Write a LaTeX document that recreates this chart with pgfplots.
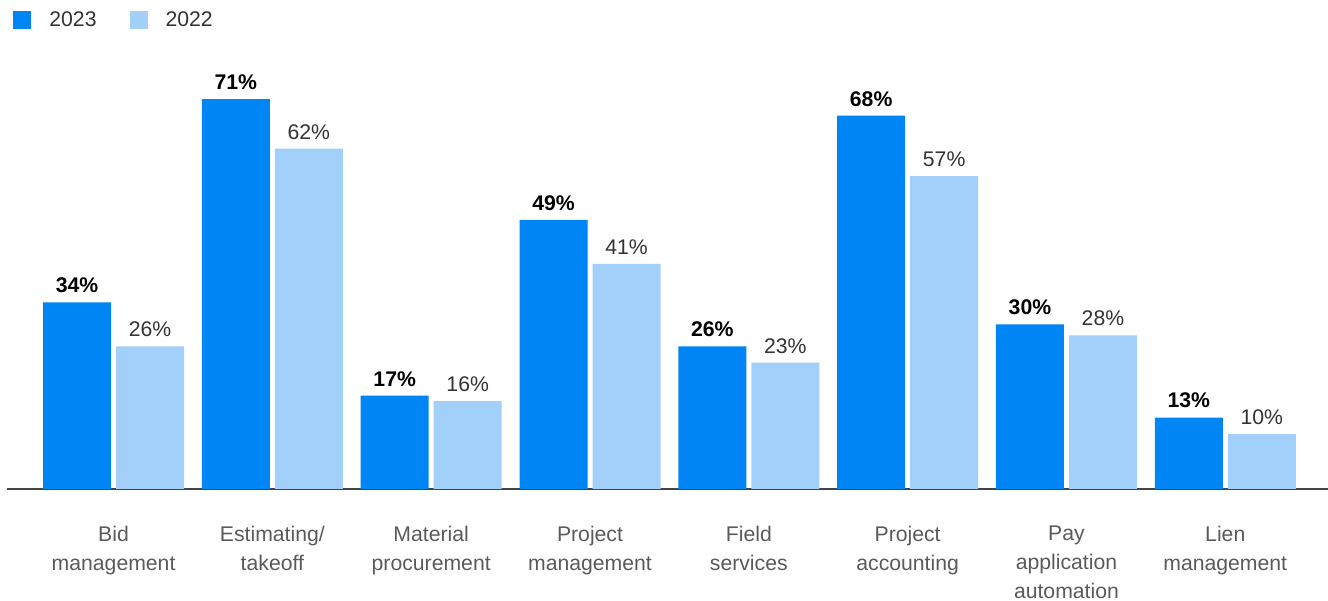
\documentclass[border=0pt]{standalone}
\usepackage{fontspec}
\setmainfont{Liberation Sans}
\usepackage{pgfplots}
\pgfplotsset{compat=1.18}
\definecolor{dark}{HTML}{0085F5}
\definecolor{light}{HTML}{A3D0FA}
\definecolor{lab}{HTML}{5A5A5A}
\definecolor{axl}{HTML}{444444}
\definecolor{val}{HTML}{333333}
\begin{document}
\begin{tikzpicture}
\begin{axis}[
 scale only axis, width=660.5pt, height=214.1pt,
 xmin=-0.671, xmax=7.647, ymin=0, ymax=78,
 axis x line=bottom, axis y line=none,
 x axis line style={-, draw=axl, line width=0.75pt},
 ytick=\empty,
 xtick={0,...,7}, major tick length=0pt,
 xticklabels={{Bid\\management},{Estimating/\\takeoff},{Material\\procurement},{Project\\management},{Field\\services},{Project\\accounting},{Pay\\application\\automation},{Lien\\management}},
 xticklabel style={align=center, anchor=north, inner sep=0pt, yshift=-18.25pt, font=\fontsize{10.6}{14.5}\selectfont, text=lab},
 ybar=2.5pt, bar width=34pt,
 /pgf/number format/assume math mode=true,
 nodes near coords={\pgfmathprintnumber{\pgfplotspointmeta}\%},
 every node near coord/.append style={anchor=south, inner sep=0pt, yshift=4.5pt},
 legend style={at={(0,1)}, anchor=north west, xshift=3pt, yshift=24.9pt, draw=none, fill=none, inner sep=0pt,
   font=\fontsize{10.6}{12}\selectfont, text=val,
   /tikz/every even column/.append style={column sep=16.5pt}, nodes={inner sep=0pt, anchor=west}},
 legend columns=2,
 sq legend/.style={legend image code/.code={\fill[##1,draw=none] (0pt,-4.5pt) rectangle (9pt,4.5pt); \path[draw=none,fill=none] (0pt,0pt) rectangle (18pt,0pt);}},
 clip=false,
]
\addplot[fill=dark, draw=none, sq legend, every node near coord/.append style={font=\fontsize{10.6}{12}\selectfont\bfseries, text=black}]
 coordinates {(0,34) (1,71) (2,17) (3,49) (4,26) (5,68) (6,30) (7,13)};
\addplot[fill=light, draw=none, sq legend, every node near coord/.append style={font=\fontsize{10.6}{12}\selectfont, text=val}]
 coordinates {(0,26) (1,62) (2,16) (3,41) (4,23) (5,57) (6,28) (7,10)};
\legend{2023,2022}
\coordinate (bl) at (rel axis cs:0,0);
\coordinate (tr) at (rel axis cs:1,1);
\end{axis}
\pgfresetboundingbox
\path ([xshift=-3.5pt,yshift=-56pt]bl) rectangle ([yshift=30.4pt]tr);
\end{tikzpicture}
\end{document}
